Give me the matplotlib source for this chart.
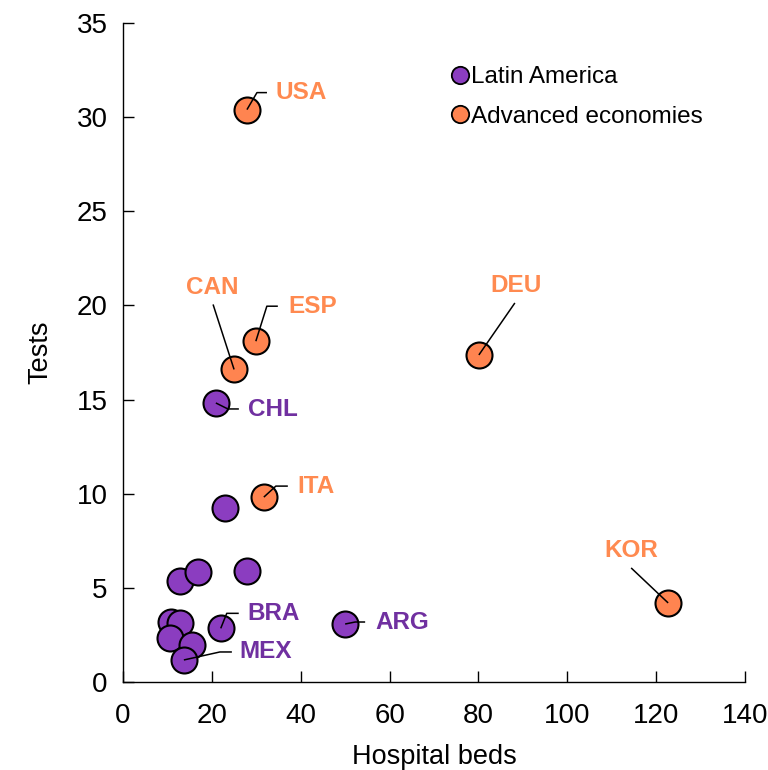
import matplotlib
matplotlib.use("Agg")
import matplotlib.pyplot as plt
from matplotlib.lines import Line2D
import numpy as np

plt.rcParams['font.family'] = ['Liberation Sans', 'DejaVu Sans']

# Data
latam_beds = [10.9, 12.8, 10.6, 15.5, 13.7, 22.0, 50.0, 12.8, 16.9, 27.8, 23.0, 20.9]
latam_tests = [3.2, 3.15, 2.34, 1.96, 1.17, 2.85, 3.08, 5.38, 5.83, 5.9, 9.24, 14.82]
latam_codes = ["", "", "", "", "MEX", "BRA", "ARG", "", "", "", "", "CHL"]

adv_beds = [27.9, 29.9, 25.0, 80.1, 31.7, 122.7]
adv_tests = [30.4, 18.1, 16.6, 17.37, 9.82, 4.2]
adv_codes = ["USA", "ESP", "CAN", "DEU", "ITA", "KOR"]

PURPLE = "#8B3DC0"
PURPLE_TXT = "#7030A0"
ORANGE = "#FF8450"
ORANGE_TXT = "#FF8A50"

W, H = 768, 770
fig = plt.figure(figsize=(W / 100, H / 100), dpi=100)
ax = fig.add_axes([123 / W, (H - 682) / H, (745 - 123) / W, (682 - 23) / H])

ax.scatter(latam_beds, latam_tests, s=350, c=PURPLE, edgecolors="black",
           linewidths=1.5, zorder=2)
ax.scatter(adv_beds, adv_tests, s=350, c=ORANGE, edgecolors="black",
           linewidths=1.5, zorder=2)

ax.set_xlim(0, 140)
ax.set_ylim(0, 35)
ax.set_xticks(np.arange(0, 141, 20))
ax.set_yticks(np.arange(0, 36, 5))
ax.spines['top'].set_visible(False)
ax.spines['right'].set_visible(False)
for s in ['left', 'bottom']:
    ax.spines[s].set_linewidth(1.0)
ax.tick_params(direction='in', length=8, width=1.0, labelsize=20, colors='black')
ax.tick_params(axis='x', pad=15)
ax.tick_params(axis='y', pad=11)
ax.set_xlabel("Hospital beds", fontsize=19.5, labelpad=11)
ax.set_ylabel("Tests", fontsize=19.5, labelpad=17)

# label layout: (text offset px, ha, leader offsets px) -- offsets relative to point, y up
layout = {
    "USA": ((29, 17), 'left', [(10, 17), (20, 17)]),
    "ESP": ((33, 35), 'left', [(11, 35), (22, 35)]),
    "CAN": ((-22, 82), 'center', [(-21, 65)]),
    "CHL": ((32, -7), 'left', [(12, -6), (23, -6)]),
    "ITA": ((34, 11), 'left', [(12, 11), (24, 11)]),
    "BRA": ((27, 15), 'left', [(6, 15), (18, 15)]),
    "MEX": ((56, 8), 'left', [(36, 8), (48, 8)]),
    "ARG": ((30, 2), 'left', [(10, 2), (20, 2)]),
    "DEU": ((37, 69), 'center', [(36, 52)]),
    "KOR": ((-37, 52), 'center', [(-37, 35)]),
}

inv = ax.transData.inverted()


def label(x, y, code, color):
    if not code:
        return
    (tx, ty), ha, pts = layout[code]
    px, py = ax.transData.transform((x, y))
    path = [(px, py)] + [(px + dx, py + dy) for dx, dy in pts]
    data = inv.transform(np.array(path))
    ax.plot(data[:, 0], data[:, 1], color='black', lw=1.1, zorder=3,
            solid_capstyle='butt', clip_on=False)
    ax.annotate(code, (x, y), xytext=(tx * 0.72, ty * 0.72),
                textcoords='offset points', ha=ha, va='center',
                fontsize=17.5, fontweight='bold', color=color, zorder=4)


for x, y, c in zip(latam_beds, latam_tests, latam_codes):
    label(x, y, c, PURPLE_TXT)
for x, y, c in zip(adv_beds, adv_tests, adv_codes):
    label(x, y, c, ORANGE_TXT)

handles = [
    Line2D([], [], marker='o', ls='none', markersize=12.5, markerfacecolor=PURPLE,
           markeredgecolor='black', markeredgewidth=1.3, label="Latin America"),
    Line2D([], [], marker='o', ls='none', markersize=12.5, markerfacecolor=ORANGE,
           markeredgecolor='black', markeredgewidth=1.3, label="Advanced economies"),
]
leg = ax.legend(handles=handles, loc='upper left',
                bbox_to_anchor=(453 / W, (H - 66) / H), bbox_transform=fig.transFigure,
                frameon=False, fontsize=17.5, handlelength=0.6, handletextpad=0.15,
                labelspacing=0.72, borderpad=0, borderaxespad=0)

fig.savefig("out.png", dpi=100)
